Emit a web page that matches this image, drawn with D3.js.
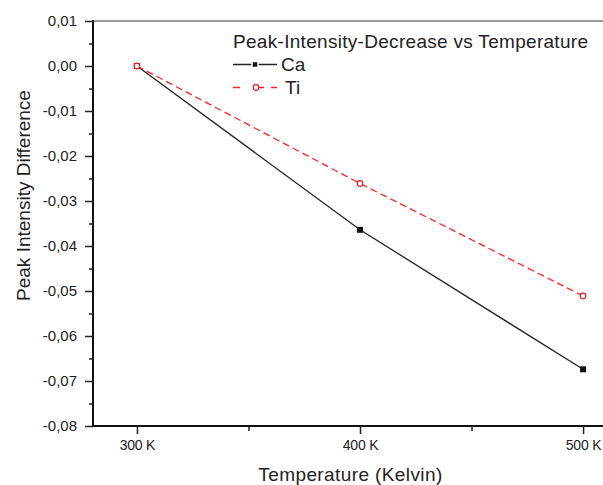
<!DOCTYPE html>
<html>
<head>
<meta charset="utf-8">
<script src="https://cdn.jsdelivr.net/npm/d3@7"></script>
<style>
  body { margin: 0; background: #fff; }
  svg { display: block; font-family: "Liberation Sans", Arial, sans-serif; }
</style>
</head>
<body>
<svg id="chart" width="603" height="485"></svg>
<script>
'use strict';

// chart data
var temperatures = [300, 400, 500];
var caValues = [0.0, -0.0364, -0.0674];
var tiValues = [0.0, -0.0261, -0.0511];
var xTickValues = [300, 400, 500];
var xTickLabels = ['300 K', '400 K', '500 K'];
var yTickValues = [0.01, 0, -0.01, -0.02, -0.03, -0.04, -0.05, -0.06, -0.07, -0.08];

var svg = d3.select('#chart');

var plot = { left: 93, top: 21, bottom: 426 };

// x axis runs past the right edge of the picture (cropped frame)
var x = d3.scaleLinear().domain([280.3, 519.7]).range([plot.left, 627]);
var y = d3.scaleLinear().domain([0.01, -0.08]).range([plot.top, plot.bottom]);

var fmt = function(v) {
  return d3.format('.2f')(v).replace('.', ',').replace('−', '-');
};

// top frame line
svg.append('line')
  .attr('x1', plot.left).attr('x2', 603)
  .attr('y1', plot.top).attr('y2', plot.top)
  .attr('stroke', '#777').attr('stroke-width', 1.5);

//Minor ticks first, major ticks on top
var yMinor = svg.append('g')
  .attr('transform', 'translate(' + plot.left + ',0)')
  .call(d3.axisLeft(y).tickValues(d3.range(0.005, -0.08, -0.01)).tickSize(4).tickFormat(''));
var yAxis = svg.append('g')
  .attr('transform', 'translate(' + plot.left + ',0)')
  .call(d3.axisLeft(y).tickValues(yTickValues).tickSize(8).tickPadding(8).tickFormat(fmt));

var xMinor = svg.append('g')
  .attr('transform', 'translate(0,' + plot.bottom + ')')
  .call(d3.axisBottom(x).tickValues([350, 450]).tickSize(5).tickFormat(''));
var xAxis = svg.append('g')
  .attr('transform', 'translate(0,' + plot.bottom + ')')
  .call(d3.axisBottom(x).tickValues(xTickValues).tickSize(8).tickPadding(6)
    .tickFormat(function(d, i) { return xTickLabels[i]; }));

[yMinor, yAxis, xMinor, xAxis].forEach(function(ax) {
  ax.select('.domain').remove();
  ax.selectAll('line').attr('stroke', '#222').attr('stroke-width', 1.5);
});
yAxis.selectAll('text').attr('font-size', 15).attr('fill', '#222')
  .attr('font-family', '"Liberation Sans", Arial, sans-serif');
xAxis.selectAll('text').attr('font-size', 14).attr('fill', '#222')
  .attr('font-family', '"Liberation Sans", Arial, sans-serif')
  .attr('letter-spacing', '-0.2px');

// axis lines
svg.append('line')
  .attr('x1', plot.left).attr('x2', plot.left)
  .attr('y1', plot.top - 1).attr('y2', plot.bottom + 1)
  .attr('stroke', '#111').attr('stroke-width', 2);
svg.append('line')
  .attr('x1', plot.left - 1).attr('x2', 603)
  .attr('y1', plot.bottom).attr('y2', plot.bottom)
  .attr('stroke', '#111').attr('stroke-width', 2);

// axis titles
svg.append('text')
  .attr('transform', 'translate(30,195.5) rotate(-90)')
  .attr('text-anchor', 'middle')
  .attr('font-size', 19).attr('fill', '#222')
  .text('Peak Intensity Difference');
svg.append('text')
  .attr('x', 350.5).attr('y', 481)
  .attr('text-anchor', 'middle')
  .attr('font-size', 19).attr('fill', '#222')
  .attr('letter-spacing', '0.4px')
  .text('Temperature (Kelvin)');

// series
var caPoints = temperatures.map(function(t, i) { return [t, caValues[i]]; });
var tiPoints = temperatures.map(function(t, i) { return [t, tiValues[i]]; });
var line = d3.line()
  .x(function(d) { return x(d[0]); })
  .y(function(d) { return y(d[1]); });

svg.append('path').datum(caPoints)
  .attr('d', line).attr('fill', 'none')
  .attr('stroke', '#222').attr('stroke-width', 1.3);
svg.append('path').datum(tiPoints)
  .attr('d', line).attr('fill', 'none')
  .attr('stroke', '#ff2020').attr('stroke-width', 1.3)
  .attr('stroke-dasharray', '7,4');

svg.selectAll('.ca-marker').data(caPoints).enter().append('rect')
  .attr('class', 'ca-marker')
  .attr('x', function(d) { return x(d[0]) - 3; })
  .attr('y', function(d) { return y(d[1]) - 3; })
  .attr('width', 6).attr('height', 6)
  .attr('fill', '#111');
svg.selectAll('.ti-marker').data(tiPoints).enter().append('circle')
  .attr('class', 'ti-marker')
  .attr('cx', function(d) { return x(d[0]); })
  .attr('cy', function(d) { return y(d[1]); })
  .attr('r', 2.8)
  .attr('fill', '#fff').attr('stroke', '#e02020').attr('stroke-width', 1.2);

// legend
var legend = svg.append('g');
legend.append('text')
  .attr('x', 233).attr('y', 48)
  .attr('font-size', 19).attr('fill', '#222')
  .attr('letter-spacing', '0.3px')
  .text('Peak-Intensity-Decrease vs Temperature');

legend.append('line')
  .attr('x1', 233).attr('x2', 277).attr('y1', 64.5).attr('y2', 64.5)
  .attr('stroke', '#222').attr('stroke-width', 1.3);
legend.append('rect')
  .attr('x', 252).attr('y', 61.5).attr('width', 6).attr('height', 6)
  .attr('fill', '#111').attr('stroke', '#fff').attr('stroke-width', 1.5);
legend.append('text')
  .attr('x', 281).attr('y', 71)
  .attr('font-size', 19).attr('fill', '#222')
  .text('Ca');

legend.append('line')
  .attr('x1', 233).attr('x2', 277).attr('y1', 87.5).attr('y2', 87.5)
  .attr('stroke', '#ff2020').attr('stroke-width', 1.3)
  .attr('stroke-dasharray', '7,13,0,4,7');
legend.append('circle')
  .attr('cx', 256).attr('cy', 87.5).attr('r', 2.8)
  .attr('fill', '#fff').attr('stroke', '#e02020').attr('stroke-width', 1.2);
legend.append('text')
  .attr('x', 285).attr('y', 94)
  .attr('font-size', 19).attr('fill', '#222')
  .text('Ti');
</script>
</body>
</html>
